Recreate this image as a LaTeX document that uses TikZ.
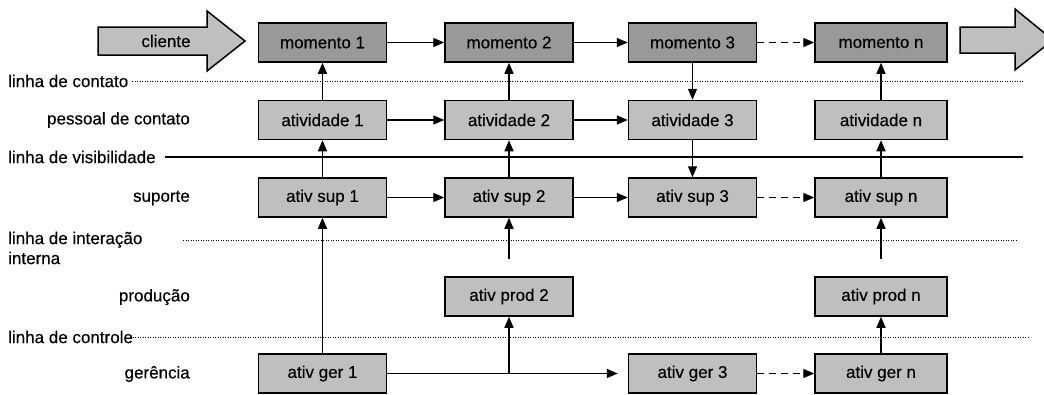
\documentclass[tikz,border=0pt]{standalone}
\usepackage{fontspec}
\setmainfont[FakeBold=0.4]{Liberation Sans}
\usetikzlibrary{arrows.meta,calc}
\begin{document}
\begin{tikzpicture}[x=1pt,y=-1pt,
  font=\fontsize{17}{20}\selectfont,
  stage/.style={draw=black,line width=1.5pt,fill=black!25,minimum height=39pt,minimum width=128pt,inner sep=0pt},
  moment/.style={stage,fill=black!40},
  flow/.style={line width=1.4pt,-{Triangle[length=11pt,width=9pt]}},
  dflow/.style={flow,dash pattern=on 7pt off 5pt},
  dotline/.style={line width=1pt,dash pattern=on 1pt off 1.5pt},
  bigarrow/.style={draw=black,line width=1.5pt,fill=black!25,line join=miter},
  lineLabel/.style={anchor=west,inner sep=0pt},
  laneLabel/.style={anchor=east,inner sep=0pt}]
\useasboundingbox (0,0) rectangle (1044,394);
\clip (0,0) rectangle (1044,394);

% lane separators
\draw[dotline] (132,81) -- (1023,81);
\draw[line width=2pt] (165,157) -- (1023,157);
\draw[dotline] (183,240) -- (1018,240);
\draw[dotline] (130,337) -- (1028,337);

% lane and line labels
\node[lineLabel] (lcont) at (8,81) {linha de contato};
\node[laneLabel] (pcont) at (190,120) {pessoal de contato};
\node[lineLabel] (lvis) at (8,157) {linha de visibilidade};
\node[laneLabel] (sup) at (190,198) {suporte};
\node[lineLabel,align=left] (lint) at (8,248) {linha de intera\c{c}\~ao\\interna};
\node[laneLabel] (prod) at (190,297) {produ\c{c}\~ao};
\node[lineLabel] (lctl) at (8,337) {linha de controle};
\node[laneLabel] (ger) at (190,374) {ger\^encia};

% customer entering and leaving
\draw[bigarrow] (98,27) -- (207,27) -- (207,11) -- (245,41) -- (207,71) -- (207,55) -- (98,55) -- cycle;
\node (cli) at (166,41) {cliente};
\draw[bigarrow] (960,27) -- (1015,27) -- (1015,9) -- (1053,40) -- (1015,70) -- (1015,53) -- (960,53) -- cycle;

% moments of truth
\node[moment] (m1) at (322.5,42.5) {momento 1};
\node[moment] (m2) at (509,42.5) {momento 2};
\node[moment] (m3) at (692.5,42.5) {momento 3};
\node[moment,minimum width=132pt] (mn) at (881,42.5) {momento n};

% front-office activities
\node[stage] (a1) at (322.5,120) {atividade 1};
\node[stage] (a2) at (509,120) {atividade 2};
\node[stage] (a3) at (692.5,120) {atividade 3};
\node[stage,minimum width=132pt] (an) at (881,120) {atividade n};

% support activities
\node[stage] (s1) at (322.5,197.5) {ativ sup 1};
\node[stage] (s2) at (509,197.5) {ativ sup 2};
\node[stage] (s3) at (692.5,197.5) {ativ sup 3};
\node[stage,minimum width=132pt] (sn) at (881,197.5) {ativ sup n};

% production activities
\node[stage] (p2) at (509,296.5) {ativ prod 2};
\node[stage,minimum width=132pt] (pn) at (881,296.5) {ativ prod n};

% management activities
\node[stage] (g1) at (322.5,373.5) {ativ ger 1};
\node[stage] (g3) at (692.5,373.5) {ativ ger 3};
\node[stage,minimum width=132pt] (gn) at (881,373.5) {ativ ger n};

% horizontal flows
\draw[flow] (m1) -- (m2);
\draw[flow] (m2) -- (m3);
\draw[dflow] (m3) -- (mn);
\draw[flow] (a1) -- (a2);
\draw[flow] (a2) -- (a3);
\draw[flow] (s1) -- (s2);
\draw[flow] (s2) -- (s3);
\draw[dflow] (s3) -- (sn);
\draw[flow,shorten >=10pt] (g1) -- (g3);
\draw[dflow] (g3) -- (gn);

% vertical flows
\draw[flow] (a1) -- (m1);
\draw[flow] (a2) -- (m2);
\draw[flow] (m3) -- (a3);
\draw[flow] (an) -- (mn);
\draw[flow] (s1) -- (a1);
\draw[flow] (s2) -- (a2);
\draw[flow] (a3) -- (s3);
\draw[flow] (sn) -- (an);
\draw[flow] (g1) -- (s1);
\coordinate (p2top) at (509,259);
\coordinate (pntop) at (881,259);
\draw[flow] (p2top) -- (s2);
\draw[flow] (pntop) -- (sn);
\coordinate (gbranch) at (509,374);
\draw[flow] (gbranch) -- (p2);
\draw[flow] (gn) -- (pn);
\end{tikzpicture}
\end{document}
